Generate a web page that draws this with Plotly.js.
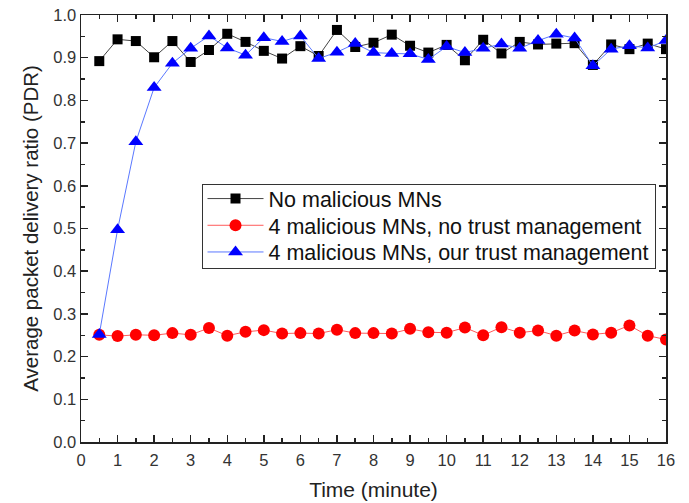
<!DOCTYPE html>
<html><head><meta charset="utf-8">
<script src="https://cdn.plot.ly/plotly-3.0.1.min.js"></script>
<style>html,body{margin:0;padding:0;background:#fff}</style>
</head><body>
<div id="chart" style="width:689px;height:503px"></div>
<script>
const time = [0.5,1,1.5,2,2.5,3,3.5,4,4.5,5,5.5,6,6.5,7,7.5,8,8.5,9,9.5,10,10.5,11,11.5,12,12.5,13,13.5,14,14.5,15,15.5,16];
const noMalicious = [0.892,0.943,0.939,0.901,0.939,0.890,0.918,0.956,0.937,0.916,0.898,0.927,0.904,0.965,0.925,0.935,0.954,0.928,0.912,0.930,0.894,0.942,0.910,0.937,0.931,0.933,0.934,0.883,0.931,0.920,0.933,0.920];
const noTrust = [0.251,0.248,0.251,0.250,0.255,0.251,0.267,0.249,0.258,0.262,0.254,0.255,0.254,0.263,0.255,0.255,0.254,0.265,0.257,0.256,0.268,0.250,0.269,0.256,0.261,0.249,0.261,0.252,0.256,0.273,0.249,0.240];
const ourTrust = [0.252,0.497,0.703,0.830,0.887,0.922,0.951,0.923,0.906,0.947,0.938,0.951,0.898,0.913,0.933,0.912,0.910,0.909,0.896,0.926,0.912,0.922,0.932,0.922,0.940,0.955,0.946,0.881,0.920,0.928,0.923,0.940];
const seriesNames = ["No malicious MNs","4 malicious MNs, no trust management","4 malicious MNs, our trust management"];
const xTitle = "Time (minute)";
const yTitle = "Average packet delivery ratio (PDR)";

const font = "Liberation Sans, Arial, sans-serif";
const traces = [
  {x: time, y: noMalicious, name: seriesNames[0], mode: "lines+markers",
   line: {color: "#444444", width: 1}, marker: {symbol: "square", size: 10, color: "#000000"}},
  {x: time, y: noTrust, name: seriesNames[1], mode: "lines+markers",
   line: {color: "#ff5a5a", width: 1}, marker: {symbol: "circle", size: 12, color: "#ff0000"}},
  {x: time, y: ourTrust, name: seriesNames[2], mode: "lines+markers",
   line: {color: "#5a78ff", width: 1}, marker: {symbol: "triangle-up", size: 13, color: "#0000ff"}}
];
const axisCommon = {
  showgrid: false, zeroline: false, showline: true, linecolor: "#222", linewidth: 1.5,
  mirror: "ticks", ticks: "inside", ticklen: 7, tickwidth: 1.5, tickcolor: "#222",
  tickfont: {family: font, size: 16.5, color: "#333"}
};
const layout = {
  width: 689, height: 503,
  margin: {l: 81, r: 23, t: 15, b: 61},
  paper_bgcolor: "#fff", plot_bgcolor: "#fff",
  font: {family: font, color: "#222"},
  showlegend: true,
  legend: {x: 0.206, y: 0.604, xanchor: "left", yanchor: "top",
    bordercolor: "#333", borderwidth: 1, bgcolor: "#fff", itemwidth: 56,
    font: {family: font, size: 21.5, color: "#111"}, tracegroupgap: 0},
  xaxis: Object.assign({}, axisCommon, {
    range: [0, 16], dtick: 1, tick0: 0, ticklabelstandoff: 3,
    minor: {dtick: 0.5, ticks: "inside", ticklen: 4, tickwidth: 1.5, tickcolor: "#222"},
    title: {text: xTitle, font: {family: font, size: 21, color: "#222"}, standoff: 14}
  }),
  yaxis: Object.assign({}, axisCommon, {
    range: [0, 1.0], dtick: 0.1, tick0: 0, tickformat: ".1f",
    minor: {dtick: 0.05, ticks: "inside", ticklen: 4, tickwidth: 1.5, tickcolor: "#222"},
    title: {text: yTitle, font: {family: font, size: 20.5, color: "#222"}, standoff: 9}
  })
};
const gd = document.getElementById("chart");
Plotly.newPlot(gd, traces, layout, {displayModeBar: false, staticPlot: true}).then(function () {
  // tighten legend row spacing and padding to match the reference
  const rowStep = 26.7, liftFirst = 7, extraShrink = 12;
  const items = gd.querySelectorAll(".legend .traces");
  if (!items.length) return;
  const parse = el => {
    const m = (el.getAttribute("transform") || "").match(/translate\(\s*([-\d.e]+)[ ,]+([-\d.e]+)\s*\)/);
    return m ? [parseFloat(m[1]), parseFloat(m[2])] : null;
  };
  const first = parse(items[0]);
  const last = parse(items[items.length - 1]);
  if (!first || !last) return;
  const oldSpan = last[1] - first[1];
  items.forEach((el, i) => {
    const t = parse(el);
    if (t) el.setAttribute("transform", "translate(" + t[0] + "," + (first[1] - liftFirst + i * rowStep) + ")");
  });
  const shrink = oldSpan - (items.length - 1) * rowStep + extraShrink;
  gd.querySelectorAll(".legend rect.bg").forEach(r => {
    const h = parseFloat(r.getAttribute("height"));
    r.setAttribute("height", h - shrink);
  });
});
</script>
</body></html>
